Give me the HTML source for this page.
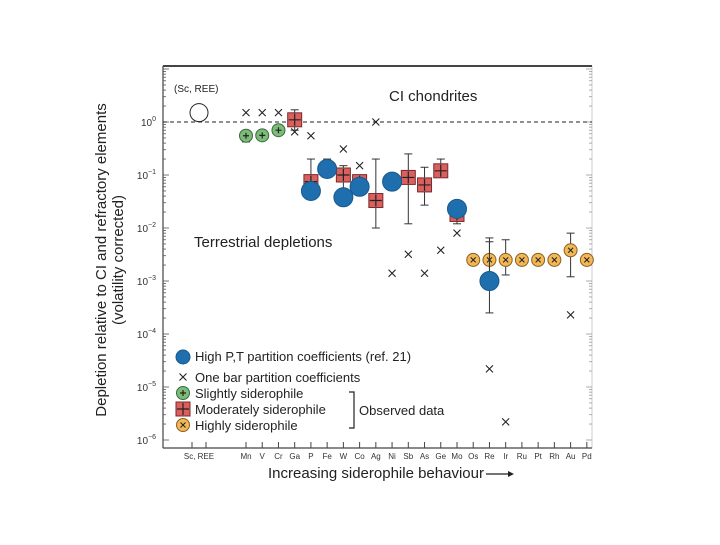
<!DOCTYPE html>
<html><head><meta charset="utf-8"><style>
body{margin:0;background:#fff;width:720px;height:540px;overflow:hidden;font-family:"Liberation Sans",sans-serif}
</style></head><body>
<svg id="chart" width="720" height="540" viewBox="0 0 720 540" xmlns="http://www.w3.org/2000/svg" font-family="Liberation Sans, sans-serif">
<g id="axes"></g><g id="marks"></g>
</svg>
<script>
const elements=["Mn","V","Cr","Ga","P","Fe","W","Co","Ag","Ni","Sb","As","Ge","Mo","Os","Re","Ir","Ru","Pt","Rh","Au","Pd"];
const yExponents=[0,-1,-2,-3,-4,-5,-6];
const refValue=1.5;
const crossEls=["Mn","V","Cr","Ga","P","W","Co","Ag","Ni","Sb","As","Ge","Mo","Re","Ir","Au"];
const crossVals=[1.5,1.5,1.5,0.65,0.55,0.31,0.15,1.0,0.0014,0.0032,0.0014,0.0038,0.008,0.000022,0.0000022,0.00023];
const greenEls=["Mn","V","Cr"];
const greenVals=[0.55,0.56,0.7];
const greenLo=[0.42,0.5,0.6];
const greenHi=[0.65,0.62,0.8];
const redEls=["Ga","P","W","Co","Ag","Sb","As","Ge","Mo"];
const redVals=[1.1,0.075,0.1,0.075,0.033,0.09,0.065,0.12,0.018];
const redLo=[0.7,0.05,0.05,0.06,0.01,0.012,0.027,0.09,0.012];
const redHi=[1.7,0.2,0.15,0.09,0.2,0.25,0.14,0.2,0.025];
const blueEls=["P","Fe","W","Co","Ni","Mo","Re"];
const blueVals=[0.05,0.13,0.038,0.06,0.075,0.023,0.001];
const blueLo=[0.05,0.13,0.038,0.06,0.075,0.023,0.00025];
const blueHi=[0.05,0.2,0.038,0.06,0.075,0.023,0.0055];
const orangeEls=["Os","Re","Ir","Ru","Pt","Rh","Au","Pd"];
const orangeVals=[0.0025,0.0025,0.0025,0.0025,0.0025,0.0025,0.0038,0.0025];
const orangeLo=[0.0025,0.0012,0.0013,0.0025,0.0025,0.0025,0.0012,0.0025];
const orangeHi=[0.0025,0.0065,0.006,0.0025,0.0025,0.0025,0.008,0.0025];

const NS="http://www.w3.org/2000/svg";
const L=163,R=592,T=66,B=448;
function y(v){return 122-53*Math.log10(v);}
function x(el){return 246+elements.indexOf(el)*16.23;}
const xSc=199;
const axes=document.getElementById('axes'),marks=document.getElementById('marks');
function mk(tag,attrs,parent,txt){const e=document.createElementNS(NS,tag);for(const k in attrs)e.setAttribute(k,attrs[k]);if(txt!==undefined)e.textContent=txt;(parent||marks).appendChild(e);return e;}

// frame
let e=mk('rect',{x:L,y:T,width:R-L,height:B-T,fill:'none',stroke:'#ccc','stroke-width':1},axes);

e=mk('line',{x1:L,y1:T,x2:R,y2:T,stroke:'#444','stroke-width':2},axes);

e=mk('line',{x1:L,y1:T,x2:L,y2:B,stroke:'#444','stroke-width':1.2},axes);

e=mk('line',{x1:L,y1:B,x2:R,y2:B,stroke:'#444','stroke-width':1.2},axes);

// y ticks
for(let d=1;d>=-6;d--){for(let m=1;m<10;m++){const v=m*Math.pow(10,d);const yy=y(v);if(yy<T||yy>B)continue;const len=m==1?6:3;
mk('line',{x1:L,y1:yy,x2:L+len,y2:yy,stroke:'#555','stroke-width':0.8},axes);
mk('line',{x1:R,y1:yy,x2:R-len,y2:yy,stroke:'#999','stroke-width':0.8},axes);}}
yExponents.forEach(p=>{const t=mk('text',{x:156,y:y(Math.pow(10,p))+4,'text-anchor':'end','font-size':10,fill:'#333'},axes);

t.appendChild(document.createTextNode('10'));const s=mk('tspan',{dy:-5,'font-size':7},t,String(p).replace('-','\u2212'));});
// x ticks
const xt=[["Sc, REE",xSc]].concat(elements.map(el=>[el,x(el)]));
xt.forEach(([n,xx])=>{
 if(n==="Sc, REE"){mk('line',{x1:xx-7,y1:B,x2:xx-7,y2:B-6,stroke:'#444'},axes);mk('line',{x1:xx+7,y1:B,x2:xx+7,y2:B-6,stroke:'#444'},axes);}
 else mk('line',{x1:xx,y1:B,x2:xx,y2:B-6,stroke:'#444'},axes);
 const t=mk('text',{x:xx,y:459,'text-anchor':'middle','font-size':8,fill:'#333'},axes,n);
 });
e=mk('text',{x:376,y:478,'text-anchor':'middle','font-size':15,fill:'#222'},axes,'Increasing siderophile behaviour');

mk('line',{x1:486,y1:474,x2:508,y2:474,stroke:'#222','stroke-width':1.2},axes);
mk('path',{d:'M508,471 L514,474 L508,477 Z',fill:'#222'},axes);
e=mk('text',{transform:'translate(106,260) rotate(-90)','text-anchor':'middle','font-size':15,fill:'#222'},axes,'Depletion relative to CI and refractory elements');

e=mk('text',{transform:'translate(123,260) rotate(-90)','text-anchor':'middle','font-size':15,fill:'#222'},axes,'(volatility corrected)');

// reference line
e=mk('line',{x1:L,y1:y(1),x2:R,y2:y(1),stroke:'#222','stroke-dasharray':'4,3','stroke-width':1});

e=mk('text',{x:389,y:101,'font-size':15,fill:'#222'},marks,'CI chondrites');

e=mk('text',{x:174,y:92,'font-size':10,fill:'#222'},marks,'(Sc, REE)');

e=mk('text',{x:194,y:247,'font-size':15,fill:'#222'},marks,'Terrestrial depletions');

e=mk('circle',{cx:xSc,cy:y(refValue),r:9,fill:'#fff',stroke:'#222','stroke-width':1});


function err(xx,lo,hi){if(Math.abs(y(lo)-y(hi))<2)return;mk('line',{x1:xx,y1:y(lo),x2:xx,y2:y(hi),stroke:'#333','stroke-width':1});
mk('line',{x1:xx-4,y1:y(lo),x2:xx+4,y2:y(lo),stroke:'#333'});mk('line',{x1:xx-4,y1:y(hi),x2:xx+4,y2:y(hi),stroke:'#333'});}
function cross(cx,cy,s,c,w){mk('path',{d:`M${cx-s},${cy-s}L${cx+s},${cy+s}M${cx-s},${cy+s}L${cx+s},${cy-s}`,stroke:c,'stroke-width':w||1.2,fill:'none'});}
function plus(cx,cy,s,c){mk('path',{d:`M${cx-s},${cy}L${cx+s},${cy}M${cx},${cy-s}L${cx},${cy+s}`,stroke:c,'stroke-width':1.2});}
function green(cx,cy){const c=mk('circle',{cx:cx,cy:cy,r:6.5,fill:'#7dbb7a',stroke:'#3a6a3a'});plus(cx,cy,3,'#222');}
function red(cx,cy){const r=mk('rect',{x:cx-7,y:cy-7,width:14,height:14,fill:'#d9605f',stroke:'#7a2a2a'});plus(cx,cy,6,'#222');}
function orange(cx,cy){const c=mk('circle',{cx:cx,cy:cy,r:6.5,fill:'#f2b756',stroke:'#8a6020'});cross(cx,cy,2.5,'#222',1);}
function blue(cx,cy,r){const c=mk('circle',{cx:cx,cy:cy,r:r||9.5,fill:'#1f6fae',stroke:'#175a8e'});}

greenEls.forEach((el,i)=>{err(x(el),greenLo[i],greenHi[i]);green(x(el),y(greenVals[i]));});
redEls.forEach((el,i)=>{err(x(el),redLo[i],redHi[i]);red(x(el),y(redVals[i]));});
orangeEls.forEach((el,i)=>{err(x(el),orangeLo[i],orangeHi[i]);orange(x(el),y(orangeVals[i]));});
blueEls.forEach((el,i)=>{err(x(el),blueLo[i],blueHi[i]);blue(x(el),y(blueVals[i]));});
crossEls.forEach((el,i)=>{cross(x(el),y(crossVals[i]),3.5,'#222',1.1);});

// legend
const lg=mk('g',{},marks);
blue(183,357,7);cross(183,377,3.5,'#222',1.1);green(183,393);red(183,409);orange(183,425);
[["High P,T partition coefficients (ref. 21)",361],["One bar partition coefficients",382],["Slightly siderophile",398],["Moderately siderophile",414],["Highly siderophile",430]].forEach(([t,yy])=>{
 const tx=mk('text',{x:195,y:yy,'font-size':13,fill:'#222'},lg,t);});
mk('path',{d:'M349,392 L354,392 L354,428 L349,428',fill:'none',stroke:'#222','stroke-width':1.2},lg);
e=mk('text',{x:359,y:415,'font-size':13,fill:'#222'},lg,'Observed data');

</script>
</body></html>
